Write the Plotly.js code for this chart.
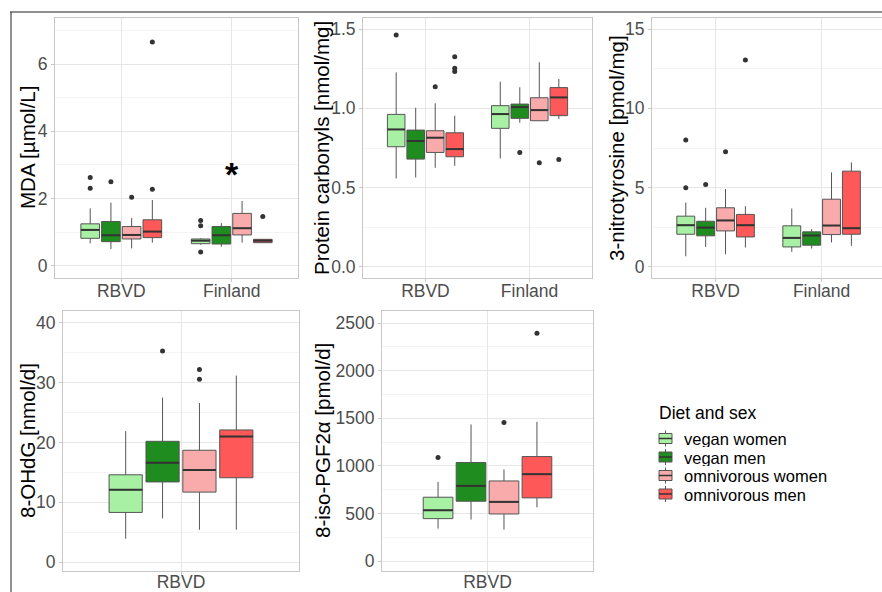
<!DOCTYPE html>
<html>
<head>
<meta charset="utf-8">
<script src="https://cdn.plot.ly/plotly-3.0.1.min.js"></script>
<style>html,body{margin:0;padding:0;background:#fff;}#chart{width:882px;height:592px;}</style>
</head>
<body>
<div id="chart"></div>
<script>
// ---- data ----
const groups = ['vegan women', 'vegan men', 'omnivorous women', 'omnivorous men'];
const colors = ['#A8F0A3', '#1E8C1E', '#F9AAAA', '#FF5858'];
const legendTitle = 'Diet and sex';
const cats2 = ['RBVD', 'Finland'];
const cats1 = ['RBVD'];

// MDA [µmol/L]  (per group: [RBVD, Finland])
const mdaQ1  = [[0.82, 0.66], [0.72, 0.65], [0.80, 0.92], [0.84, 0.69]];
const mdaMed = [[1.07, 0.75], [0.91, 0.91], [0.92, 1.12], [1.02, 0.75]];
const mdaQ3  = [[1.25, 0.80], [1.32, 1.17], [1.17, 1.56], [1.37, 0.79]];
const mdaLo  = [[0.67, 0.63], [0.50, 0.57], [0.52, 0.69], [0.69, 0.68]];
const mdaHi  = [[1.71, 0.82], [1.88, 1.27], [1.42, 1.93], [1.96, 0.80]];
const mdaOut = [[[2.31, 2.63], [0.41, 1.19, 1.35]], [[2.50], []], [[2.04], []], [[2.28, 6.66], [1.47]]];

// Protein carbonyls [nmol/mg]
const pcQ1  = [[0.758, 0.874], [0.680, 0.937], [0.722, 0.922], [0.695, 0.954]];
const pcMed = [[0.867, 0.964], [0.794, 1.008], [0.815, 0.989], [0.743, 1.069]];
const pcQ3  = [[0.962, 1.017], [0.863, 1.027], [0.859, 1.067], [0.846, 1.131]];
const pcLo  = [[0.558, 0.684], [0.564, 0.909], [0.625, 0.922], [0.638, 0.933]];
const pcHi  = [[1.227, 1.168], [1.004, 1.133], [1.032, 1.291], [0.954, 1.185]];
const pcOut = [[[1.463], []], [[], [0.722]], [[1.137], [0.657]], [[1.232, 1.253, 1.326], [0.678]]];

// 3-nitrotyrosine [pmol/mg]
const ntQ1  = [[2.06, 1.26], [1.96, 1.37], [2.27, 2.04], [1.89, 2.06]];
const ntMed = [[2.63, 1.83], [2.48, 1.98], [2.93, 2.61], [2.63, 2.44]];
const ntQ3  = [[3.20, 2.59], [2.88, 2.21], [3.73, 4.27], [3.31, 6.04]];
const ntLo  = [[0.67, 0.95], [1.26, 1.16], [0.80, 1.54], [1.22, 1.33]];
const ntHi  = [[4.06, 3.68], [3.73, 2.38], [4.91, 5.96], [3.83, 6.59]];
const ntOut = [[[4.99, 8.0], []], [[5.2], []], [[7.26], []], [[13.05], []]];

// 8-OHdG [nmol/d]
const ohQ1  = [[8.3], [13.4], [11.7], [14.1]];
const ohMed = [[12.1], [16.6], [15.4], [21.0]];
const ohQ3  = [[14.6], [20.2], [18.7], [22.1]];
const ohLo  = [[3.9], [7.3], [5.4], [5.4]];
const ohHi  = [[21.9], [27.5], [26.6], [31.2]];
const ohOut = [[[]], [[35.3]], [[30.6, 32.2]], [[]]];

// 8-iso-PGF2α [pmol/d]
const isoQ1  = [[445], [628], [494], [663]];
const isoMed = [[533], [789], [621], [912]];
const isoQ3  = [[670], [1034], [841], [1097]];
const isoLo  = [[340], [435], [330], [564]];
const isoHi  = [[831], [1434], [961], [1462]];
const isoOut = [[[1087]], [[]], [[1455]], [[2391]]];

// ---- panel layout (pixels: left, right, top, bottom; title centre x) ----
const W = 882, H = 592;
const panels = [
  {cats: cats2, q1: mdaQ1, med: mdaMed, q3: mdaQ3, lo: mdaLo, hi: mdaHi, out: mdaOut,
   title: 'MDA [µmol/L]', px: [55, 298, 18, 278], tx: 27, yr: [-0.36, 7.37], dtick: 2, fmt: '', xr: [0.4, 2.6], ls: -6},
  {cats: cats2, q1: pcQ1, med: pcMed, q3: pcQ3, lo: pcLo, hi: pcHi, out: pcOut,
   title: 'Protein carbonyls [nmol/mg]', px: [363, 592, 18, 278], tx: 321, yr: [-0.07, 1.57], dtick: 0.5, fmt: '.1f', xr: [0.4, 2.6], ls: -6},
  {cats: cats2, q1: ntQ1, med: ntMed, q3: ntQ3, lo: ntLo, hi: ntHi, out: ntOut,
   title: '3-nitrotyrosine [pmol/mg]', px: [652, 882, 18, 278], tx: 616, yr: [-0.7, 15.7], dtick: 5, fmt: '', xr: [0.4, 2.57], ls: -6},
  {cats: cats1, q1: ohQ1, med: ohMed, q3: ohQ3, lo: ohLo, hi: ohHi, out: ohOut,
   title: '8-OHdG [nmol/d]', px: [63, 299, 311, 571], tx: 27, yr: [-1.5, 42], dtick: 10, fmt: '', xr: [0.4, 1.6], ls: -8},
  {cats: cats1, q1: isoQ1, med: isoMed, q3: isoQ3, lo: isoLo, hi: isoHi, out: isoOut,
   title: '8-iso-PGF2α [pmol/d]', px: [382, 593, 311, 571], tx: 322, yr: [-105, 2626], dtick: 500, fmt: '', xr: [0.4, 1.6], ls: -8}
];

const dodge = 0.75 / groups.length;
const offsets = groups.map((g, s) => (s - (groups.length - 1) / 2) * dodge);
const bw = dodge * 0.9;

const traces = [];
const shapes = [
  {type: 'line', xref: 'paper', yref: 'paper', x0: 10 / W, x1: 1, y0: 1 - 12 / H, y1: 1 - 12 / H, line: {color: '#222', width: 1}},
  {type: 'line', xref: 'paper', yref: 'paper', x0: 11 / W, x1: 11 / W, y0: 0, y1: 1 - 12 / H, line: {color: '#222', width: 1}}
];
const annotations = [
  {xref: 'x', yref: 'y', x: 2, y: 2.73, text: '<b>*</b>', showarrow: false, font: {size: 34, color: '#000'}, yanchor: 'middle'}
];

// legend (drawn as keys + text, ggplot style)
const lgX = 657, lgTitleY = 413, lgY0 = 438.5, lgStep = 18.5;
annotations.push({xref: 'paper', yref: 'paper', x: lgX / W, y: 1 - lgTitleY / H, xanchor: 'left', yanchor: 'middle',
  text: legendTitle, showarrow: false, font: {size: 17.5, color: '#000'}});
groups.forEach((g, s) => {
  const yc = lgY0 + s * lgStep;
  const py = v => 1 - v / H, pxx = v => v / W;
  shapes.push({type: 'line', xref: 'paper', yref: 'paper', x0: pxx(lgX + 8.5), x1: pxx(lgX + 8.5), y0: py(yc - 8), y1: py(yc + 8), line: {color: '#555', width: 1}});
  shapes.push({type: 'rect', xref: 'paper', yref: 'paper', x0: pxx(lgX + 2), x1: pxx(lgX + 15), y0: py(yc + 5), y1: py(yc - 5), fillcolor: colors[s], line: {color: '#555', width: 1}});
  shapes.push({type: 'line', xref: 'paper', yref: 'paper', x0: pxx(lgX + 2), x1: pxx(lgX + 15), y0: py(yc), y1: py(yc), line: {color: '#333', width: 1.5}});
  annotations.push({xref: 'paper', yref: 'paper', x: (lgX + 26) / W, y: 1 - yc / H, xanchor: 'left', yanchor: 'middle',
    text: g, showarrow: false, height: 17, borderpad: 0, valign: 'middle', font: {size: 16.5, color: '#000'}});
});

const layout = {
  width: W, height: H,
  margin: {l: 0, r: 0, t: 0, b: 0},
  paper_bgcolor: '#ffffff', plot_bgcolor: '#ffffff',
  font: {family: 'Liberation Sans, Arial, sans-serif', color: '#000'},
  showlegend: false,
  shapes: shapes,
  annotations: annotations
};

panels.forEach((p, i) => {
  const sfx = i === 0 ? '' : String(i + 1);
  const xa = 'x' + sfx, ya = 'y' + sfx;
  groups.forEach((g, s) => {
    const xs = p.cats.map((c, j) => j + 1 + offsets[s]);
    traces.push({
      type: 'box', x: xs,
      q1: p.q1[s], median: p.med[s], q3: p.q3[s], lowerfence: p.lo[s], upperfence: p.hi[s],
      width: bw, fillcolor: colors[s], line: {color: '#555555', width: 1}, whiskerwidth: 0,
      boxpoints: false, name: g, showlegend: false,
      xaxis: xa, yaxis: ya, hoverinfo: 'skip'
    });
    // median lines
    const mx = [], my = [];
    xs.forEach((x, j) => { mx.push(x - bw / 2, x + bw / 2, null); my.push(p.med[s][j], p.med[s][j], null); });
    traces.push({type: 'scatter', mode: 'lines', x: mx, y: my, line: {color: '#333333', width: 2},
      showlegend: false, xaxis: xa, yaxis: ya, hoverinfo: 'skip'});
    // outliers
    const ox = [], oy = [];
    xs.forEach((x, j) => { p.out[s][j].forEach(v => { ox.push(x); oy.push(v); }); });
    traces.push({type: 'scatter', mode: 'markers', x: ox, y: oy, marker: {color: '#333333', size: 5},
      showlegend: false, xaxis: xa, yaxis: ya, hoverinfo: 'skip'});
  });
  const [l, r, t, b] = p.px;
  layout['xaxis' + sfx] = {
    domain: [l / W, Math.min(r / W, 1)], anchor: ya, range: p.xr,
    tickvals: p.cats.map((c, j) => j + 1), ticktext: p.cats,
    showgrid: true, gridcolor: '#e6e6e6', gridwidth: 1, zeroline: false,
    showline: true, mirror: true, linecolor: '#c8c8c8', linewidth: 1,
    ticks: 'outside', ticklen: 3, tickcolor: '#c8c8c8', ticklabelstandoff: p.ls,
    tickfont: {size: 17.5, color: '#4d4d4d'}, fixedrange: true
  };
  layout['yaxis' + sfx] = {
    domain: [1 - b / H, 1 - t / H], anchor: xa, range: p.yr,
    tick0: 0, dtick: p.dtick, tickformat: p.fmt,
    showgrid: true, gridcolor: '#e6e6e6', gridwidth: 1, zeroline: false,
    minor: {dtick: p.dtick / 2, tick0: 0, showgrid: true, gridcolor: '#f4f4f4', gridwidth: 1},
    showline: true, mirror: i === 2 ? false : true, linecolor: '#c8c8c8', linewidth: 1,
    ticks: 'outside', ticklen: 3, tickcolor: '#c8c8c8',
    tickfont: {size: 17.5, color: '#4d4d4d'}, fixedrange: true
  };
  annotations.push({xref: 'paper', yref: 'paper', x: p.tx / W, y: 1 - (t + b) / 2 / H,
    xanchor: 'center', yanchor: 'middle', textangle: -90, text: p.title, showarrow: false,
    font: {size: 20.5, color: '#000'}});
});

Plotly.newPlot('chart', traces, layout, {staticPlot: true, displayModeBar: false});
</script>
</body>
</html>
